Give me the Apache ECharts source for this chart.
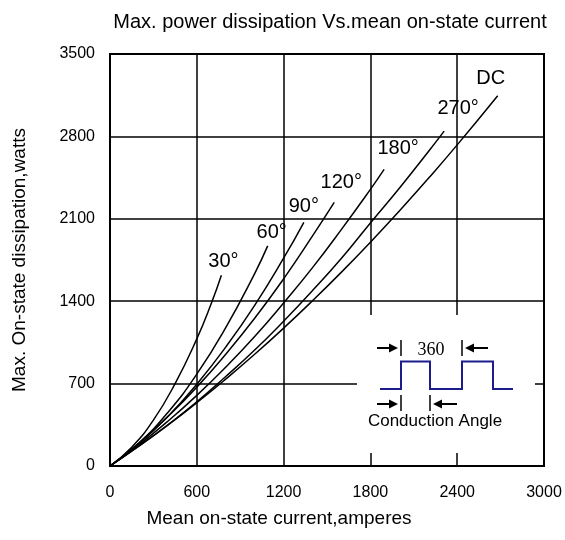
<!DOCTYPE html>
<html>
<head>
<meta charset="utf-8">
<script src="https://cdn.jsdelivr.net/npm/echarts@6/dist/echarts.min.js"></script>
<style>
  html, body { margin: 0; padding: 0; background: #fff; }
  #chart { width: 565px; height: 540px; }
</style>
</head>
<body>
<div id="chart"></div>
<script>
// values: [mean on-state current (A), max. dissipation (W)]
var curveNames = ['30°', '60°', '90°', '120°', '180°', '270°', 'DC'];
var angle30 = [[0, 0], [150, 160], [300, 390], [450, 700], [600, 1080], [700, 1380], [770, 1620]];
var angle60 = [[0, 0], [200, 195], [400, 455], [600, 780], [800, 1175], [1000, 1635], [1090, 1870]];
var angle90 = [[0, 0], [200, 190], [400, 420], [600, 695], [800, 1010], [1000, 1365], [1200, 1765], [1340, 2070]];
var angle120 = [[0, 0], [200, 195], [400, 420], [600, 670], [800, 950], [1000, 1255], [1200, 1590], [1400, 1955], [1550, 2240]];
var angle180 = [[0, 0], [200, 180], [400, 380], [600, 600], [800, 840], [1000, 1100], [1200, 1385], [1400, 1685], [1600, 2010], [1800, 2350], [1895, 2520]];
var angle270 = [[0, 0], [200, 170], [400, 350], [600, 545], [800, 760], [1000, 985], [1200, 1230], [1400, 1490], [1600, 1765], [1800, 2065], [2000, 2360], [2200, 2670], [2310, 2845]];
var angleDC = [[0, 0], [200, 168], [400, 347], [600, 537], [800, 738], [1000, 949], [1200, 1171], [1400, 1404], [1600, 1647], [1800, 1901], [2000, 2166], [2200, 2442], [2400, 2728], [2680, 3146]];
var curves = [angle30, angle60, angle90, angle120, angle180, angle270, angleDC];

var xTicks = { min: 0, max: 3000, interval: 600 };
var yTicks = { min: 0, max: 3500, interval: 700 };

// where each curve's name sits relative to its end point (px)
var labelOffsets = [[2, -14], [4, -13], [0, -16], [7, -20], [14, -21], [14, -23], [-7, -17]];

var font = 'Liberation Sans, Arial, sans-serif';
var myChart = echarts.init(document.getElementById('chart'));

function plain(v) {
    return String(v);
}

var series = [];
for (var i = 0; i < curves.length; i++) {
    series.push({
        name: curveNames[i],
        type: 'line',
        data: curves[i],
        smooth: true,
        showSymbol: false,
        lineStyle: { color: '#000', width: 1.5 },
        endLabel: {
            show: true,
            formatter: curveNames[i],
            distance: 0,
            align: 'center',
            verticalAlign: 'middle',
            offset: labelOffsets[i],
            color: '#000',
            fontSize: 20,
            fontFamily: font
        },
        z: 5
    });
}

function arrow(x1, x2, y) {
    var dir = x2 > x1 ? 1 : -1;
    return [
        { type: 'line', shape: { x1: x1, y1: y, x2: x2 - dir * 6, y2: y }, style: { stroke: '#000', lineWidth: 2 }, z: 11 },
        { type: 'polygon', shape: { points: [[x2, y], [x2 - dir * 9, y - 4.5], [x2 - dir * 9, y + 4.5]] }, style: { fill: '#000' }, z: 11 }
    ];
}

var inset = [
    // white box that cuts the grid behind the inset
    { type: 'rect', shape: { x: 357, y: 315, width: 178, height: 138 }, style: { fill: '#fff' }, z: 10 },
    { type: 'polyline', shape: { points: [[380, 389], [401, 389], [401, 361.5], [430, 361.5], [430, 389], [462, 389], [462, 361.5], [493, 361.5], [493, 389], [513, 389]] },
      style: { stroke: '#1c1c8c', lineWidth: 2, fill: null }, z: 11 },
    { type: 'line', shape: { x1: 401, y1: 340, x2: 401, y2: 356 }, style: { stroke: '#000', lineWidth: 1.5 }, z: 11 },
    { type: 'line', shape: { x1: 462, y1: 340, x2: 462, y2: 356 }, style: { stroke: '#000', lineWidth: 1.5 }, z: 11 },
    { type: 'line', shape: { x1: 401, y1: 395, x2: 401, y2: 411 }, style: { stroke: '#000', lineWidth: 1.5 }, z: 11 },
    { type: 'line', shape: { x1: 430, y1: 395, x2: 430, y2: 411 }, style: { stroke: '#000', lineWidth: 1.5 }, z: 11 },
    { type: 'text', x: 431, y: 350, style: { text: '360', fill: '#000', font: '18px "Liberation Serif", "Times New Roman", serif', align: 'center', verticalAlign: 'middle' }, z: 11 },
    { type: 'text', x: 435, y: 421, style: { text: 'Conduction Angle', fill: '#000', font: '17px ' + font, align: 'center', verticalAlign: 'middle' }, z: 11 }
].concat(arrow(377, 398, 348), arrow(488, 465, 348), arrow(377, 398, 404), arrow(457, 433, 404));

var option = {
    animation: false,
    backgroundColor: '#fff',
    title: {
        text: 'Max. power dissipation Vs.mean on-state current',
        left: 325,
        top: 7,
        textAlign: 'center',
        textStyle: { color: '#000', fontSize: 20, fontWeight: 'normal', fontFamily: font }
    },
    grid: {
        left: 110, right: 21, top: 54, bottom: 74,
        show: true, borderColor: '#000', borderWidth: 2
    },
    xAxis: {
        type: 'value',
        min: xTicks.min, max: xTicks.max, interval: xTicks.interval,
        name: 'Mean on-state current,amperes',
        nameLocation: 'middle',
        nameGap: 43,
        nameTextStyle: { color: '#000', fontSize: 19, fontFamily: font, padding: [0, 96, 0, 0] },
        axisLine: { lineStyle: { color: '#000', width: 2 } },
        axisTick: { show: false },
        axisLabel: { color: '#000', fontSize: 16, margin: 19, fontFamily: font, formatter: plain },
        splitLine: { show: true, lineStyle: { color: '#000', width: 1.5 } }
    },
    yAxis: {
        type: 'value',
        min: yTicks.min, max: yTicks.max, interval: yTicks.interval,
        name: 'Max. On-state dissipation,watts',
        nameLocation: 'middle',
        nameGap: 81,
        nameTextStyle: { color: '#000', fontSize: 19, fontFamily: font },
        axisLine: { show: true, lineStyle: { color: '#000', width: 2 } },
        axisTick: { show: false },
        axisLabel: { color: '#000', fontSize: 16, margin: 15, fontFamily: font, formatter: plain },
        splitLine: { show: true, lineStyle: { color: '#000', width: 1.5 } }
    },
    graphic: inset,
    series: series
};
myChart.setOption(option);
</script>
</body>
</html>
